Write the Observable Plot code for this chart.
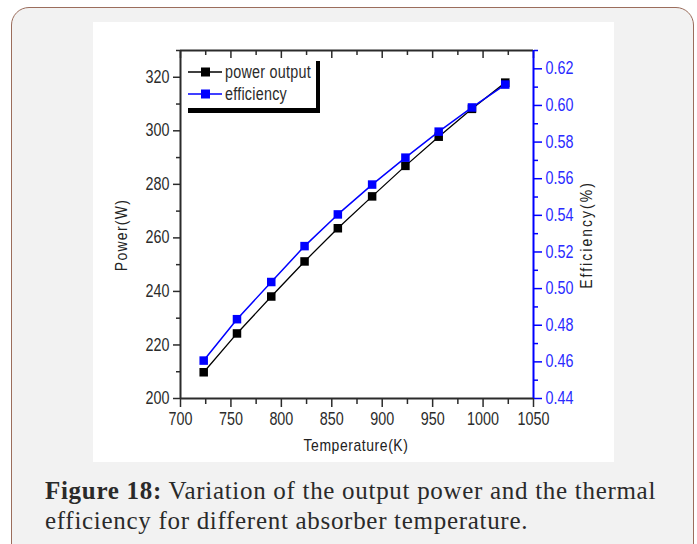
<!DOCTYPE html>
<html>
<head>
<meta charset="utf-8">
<script src="https://cdn.jsdelivr.net/npm/d3@7"></script>
<script src="https://cdn.jsdelivr.net/npm/@observablehq/plot@0.6"></script>
<style>
  html, body { margin: 0; padding: 0; background: #fff; overflow: hidden; }
  #page { position: relative; width: 697px; height: 544px; }
  #card { position: absolute; left: 11px; top: 7px; width: 681px; height: 560px;
          border: 1.5px solid #9b6d5c; border-radius: 18px; background: #f2f2f2; }
  #panel { position: absolute; left: 93px; top: 22px; width: 521px; height: 440px; background: #fff; }
  #panel svg { display: block; }
  .lab { position: absolute; font-family: 'Liberation Sans', Arial, sans-serif;
         font-size: 17px; color: #222; white-space: nowrap; }
  #legend { position: absolute; left: 188px; top: 61px; width: 128px; height: 47px;
            border-right: 4px solid #000; border-bottom: 5px solid #000; }
  #caption { position: absolute; left: 45px; top: 476px; width: 650px;
             font-family: 'Liberation Serif', 'DejaVu Serif', serif; font-size: 25px;
             letter-spacing: 0.7px; line-height: 30px; color: #2a2a2a; }
  #caption div { white-space: nowrap; }
</style>
</head>
<body>
<div id="page">
  <div id="card"></div>
  <div id="panel"></div>
  <div id="legend"></div>
  <div class="lab" id="xlab">Temperature(K)</div>
  <div class="lab" id="ylab">Power(W)</div>
  <div class="lab" id="y2lab">Efficiency(%)</div>
  <div id="caption">
    <div><b>Figure 18:</b> <span>Variation of the output power and the thermal</span></div>
    <div>efficiency for different absorber temperature.</div>
  </div>
</div>
<script>
// ---- data ----
const temperature = [723, 756, 790, 823, 856, 890, 923, 956, 989, 1022];
const power       = [209.8, 224.3, 238.1, 251.2, 263.6, 275.5, 286.9, 297.8, 308.2, 318.0];
const efficiency  = [0.4607, 0.4833, 0.5036, 0.5232, 0.5405, 0.5568, 0.5715, 0.5857, 0.5989, 0.6114];

const xTicks   = [700, 750, 800, 850, 900, 950, 1000, 1050];
const xMinor   = [725, 775, 825, 875, 925, 975, 1025];
const yTicks   = [200, 220, 240, 260, 280, 300, 320];
const yMinor   = [210, 230, 250, 270, 290, 310, 330];
const effTicks = [0.44, 0.46, 0.48, 0.50, 0.52, 0.54, 0.56, 0.58, 0.60, 0.62];
const effMinor = [0.45, 0.47, 0.49, 0.51, 0.53, 0.55, 0.57, 0.59, 0.61, 0.63];

const xDomain = [700, 1050];
const pDomain = [200, 330];
const eDomain = [0.44, 0.63];

const seriesNames = ["power output", "efficiency"];
const seriesColors = ["#000000", "#0000ff"];

// efficiency -> power-scale mapping (secondary axis)
const toP = e => pDomain[0] + (e - eDomain[0]) * (pDomain[1] - pDomain[0]) / (eDomain[1] - eDomain[0]);
const fromP = p => eDomain[0] + (p - pDomain[0]) * (eDomain[1] - eDomain[0]) / (pDomain[1] - pDomain[0]);

const rows = temperature.map((t, i) => ({t, p: power[i], e: efficiency[i]}));

const font = "'Liberation Sans', Arial, sans-serif";
const NARROW = 0.82;
const W = 521, H = 440, ML = 87, MR = 81, MT = 28, MB = 64;

const chart = Plot.plot({
  width: W, height: H,
  marginLeft: ML, marginRight: MR, marginTop: MT, marginBottom: MB,
  style: {fontFamily: font, fontSize: "17.5px", background: "white", color: "#2b2b2b", overflow: "visible"},
  x: {domain: xDomain},
  y: {domain: pDomain},
  marks: [
    // bottom axis
    Plot.axisX({anchor: "bottom", ticks: xTicks, tickFormat: d => String(d), tickSize: 9, tickPadding: 5, label: null, strokeWidth: 1.5}),
    Plot.axisX({anchor: "bottom", ticks: xMinor, tickSize: 6, text: null, label: null, strokeWidth: 1.5}),
    // top axis (inward ticks)
    Plot.axisX({anchor: "top", ticks: xTicks, tickSize: 7, dy: 7, text: null, label: null, strokeWidth: 1.5}),
    Plot.axisX({anchor: "top", ticks: xMinor, tickSize: 4, dy: 4, text: null, label: null, strokeWidth: 1.5}),
    // left axis
    Plot.axisY({anchor: "left", ticks: yTicks, tickFormat: d => String(d), tickSize: 7, tickPadding: 4, label: null, strokeWidth: 1.5}),
    Plot.axisY({anchor: "left", ticks: yMinor, tickSize: 4, text: null, label: null, strokeWidth: 1.5}),
    // right axis (efficiency)
    Plot.axisY({anchor: "right", ticks: effTicks.map(toP), tickFormat: d => fromP(d).toFixed(2),
                tickSize: 8, tickPadding: 4, label: null, stroke: "#0000ff", fill: "#2a2aff", strokeWidth: 1.5}),
    Plot.axisY({anchor: "right", ticks: effMinor.map(toP), tickSize: 4, text: null, label: null,
                stroke: "#0000ff", strokeWidth: 1.5}),
    // frame
    Plot.ruleY([pDomain[0]], {strokeWidth: 2}),
    Plot.ruleY([pDomain[1]], {strokeWidth: 2}),
    Plot.ruleX([xDomain[0]], {strokeWidth: 2}),
    Plot.ruleX([xDomain[1]], {strokeWidth: 2, stroke: "#0000ff"}),
    // series
    Plot.line(rows, {x: "t", y: "p", stroke: seriesColors[0], strokeWidth: 1.3}),
    Plot.dot(rows, {x: "t", y: "p", symbol: "square", r: 4.8, fill: seriesColors[0], stroke: null}),
    Plot.line(rows, {x: "t", y: d => toP(d.e), stroke: seriesColors[1], strokeWidth: 1.5}),
    Plot.dot(rows, {x: "t", y: d => toP(d.e), symbol: "square", r: 4.8, fill: seriesColors[1], stroke: null})
  ]
});

// condense tick label text horizontally (Arial-Narrow look)
chart.querySelectorAll("text").forEach(t => {
  const tr = t.getAttribute("transform") || "";
  const x = parseFloat(t.getAttribute("x"));
  if (!isNaN(x)) {
    t.setAttribute("transform", `${tr} translate(${x},0) scale(${NARROW},1) translate(${-x},0)`);
  } else {
    t.setAttribute("transform", `${tr} scale(${NARROW},1)`);
  }
});
document.getElementById("panel").appendChild(chart);

// legend
const legend = document.getElementById("legend");
const ns = "http://www.w3.org/2000/svg";
const lsvg = document.createElementNS(ns, "svg");
lsvg.setAttribute("width", 128); lsvg.setAttribute("height", 47);
lsvg.style.overflow = "visible";
seriesNames.forEach((name, i) => {
  const y = 11 + i * 22;
  const line = document.createElementNS(ns, "line");
  line.setAttribute("x1", 0); line.setAttribute("x2", 34);
  line.setAttribute("y1", y); line.setAttribute("y2", y);
  line.setAttribute("stroke", seriesColors[i]); line.setAttribute("stroke-width", 1.5);
  lsvg.appendChild(line);
  const sq = document.createElementNS(ns, "rect");
  sq.setAttribute("x", 13); sq.setAttribute("y", y - 4.5);
  sq.setAttribute("width", 9); sq.setAttribute("height", 9);
  sq.setAttribute("fill", seriesColors[i]);
  lsvg.appendChild(sq);
  const tx = document.createElementNS(ns, "text");
  tx.setAttribute("x", 37); tx.setAttribute("y", y);
  tx.setAttribute("dy", "0.35em");
  tx.setAttribute("font-family", font); tx.setAttribute("font-size", "17.5px");
  tx.setAttribute("letter-spacing", "0.3px");
  tx.setAttribute("fill", "#2b2b2b");
  tx.setAttribute("transform", `translate(37,0) scale(${NARROW},1) translate(-37,0)`);
  tx.textContent = name;
  lsvg.appendChild(tx);
});
legend.appendChild(lsvg);

// axis titles positioning
const xlab = document.getElementById("xlab");
xlab.style.letterSpacing = "0.7px";
xlab.style.left = "356px"; xlab.style.top = "446px";
xlab.style.transform = `translate(-50%, -50%) scaleX(${NARROW})`;
const ylab = document.getElementById("ylab");
ylab.style.letterSpacing = "1.6px";
ylab.style.left = "122px"; ylab.style.top = "235px";
ylab.style.transform = `translate(-50%, -50%) rotate(-90deg) scaleX(${NARROW})`;
const y2lab = document.getElementById("y2lab");
y2lab.style.letterSpacing = "2.5px";
y2lab.style.left = "587px"; y2lab.style.top = "235px";
y2lab.style.transform = `translate(-50%, -50%) rotate(-90deg) scaleX(${NARROW})`;
</script>
</body>
</html>
